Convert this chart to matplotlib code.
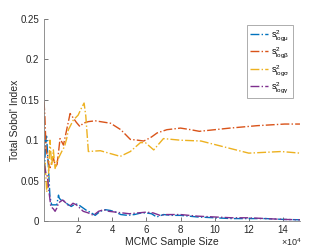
import matplotlib
matplotlib.use("Agg")
import matplotlib.pyplot as plt
import numpy as np

plt.rcParams['font.family'] = ['Liberation Sans', 'DejaVu Sans']
plt.rcParams['mathtext.fontset'] = 'custom'
plt.rcParams['mathtext.rm'] = 'Liberation Sans'
plt.rcParams['mathtext.it'] = 'Liberation Sans:italic'

# Sample sizes (x 1e4) and total Sobol' indices
x_mu = [0.02, 0.1, 0.15, 0.25, 0.35, 0.45, 0.6, 0.75, 0.85, 0.9, 1.0, 1.15, 1.3, 1.45, 1.6, 1.75, 1.9, 2.1, 2.3,
        2.5, 2.7, 3.0, 3.3, 3.6, 3.9, 4.2, 4.5, 4.9, 5.3, 5.7, 6.0, 6.3, 6.6, 7.0, 7.5, 8.0, 9.0, 10.0, 11.0,
        12.0, 13.0, 14.0, 15.0]
s_mu = [0.06, 0.10, 0.105, 0.07, 0.03, 0.02, 0.02, 0.02, 0.032, 0.028, 0.026, 0.025, 0.022, 0.02, 0.018, 0.02,
        0.021, 0.019, 0.016, 0.013, 0.011, 0.007, 0.012, 0.014, 0.013, 0.011, 0.008, 0.007, 0.008, 0.010, 0.010,
        0.009, 0.005, 0.008, 0.007, 0.007, 0.005, 0.004, 0.003, 0.003, 0.003, 0.002, 0.0015]

x_beta = [0.0, 0.05, 0.12, 0.25, 0.35, 0.45, 0.55, 0.65, 0.75, 0.85, 0.94, 1.04, 1.14, 1.3, 1.53, 1.7, 1.9, 2.1,
          2.3, 2.6, 3.0, 3.3, 3.9, 4.5, 5.06, 5.5, 5.84, 6.04, 6.3, 6.63, 7.2, 8.0, 8.6, 9.1, 10.0, 10.9, 12.5,
          14.1, 15.0]
s_beta = [0.148, 0.13, 0.09, 0.073, 0.066, 0.072, 0.078, 0.07, 0.067, 0.085, 0.102, 0.098, 0.094, 0.11, 0.133,
          0.128, 0.122, 0.117, 0.121, 0.123, 0.124, 0.123, 0.121, 0.113, 0.101, 0.100, 0.099, 0.101, 0.104, 0.109,
          0.113, 0.115, 0.113, 0.111, 0.113, 0.115, 0.118, 0.120, 0.120]

x_sigma = [0.02, 0.06, 0.16, 0.25, 0.35, 0.45, 0.55, 0.65, 0.75, 0.9, 1.04, 1.2, 1.33, 1.43, 1.72, 2.0, 2.2,
           2.35, 2.45, 2.6, 3.3, 4.47, 5.06, 5.65, 5.94, 6.43, 7.0, 8.0, 9.2, 10.5, 12.0, 13.9, 15.0]
s_sigma = [0.06, 0.073, 0.036, 0.049, 0.10, 0.069, 0.088, 0.065, 0.073, 0.080, 0.086, 0.092, 0.102, 0.113, 0.125,
           0.131, 0.14, 0.146, 0.13, 0.086, 0.087, 0.080, 0.086, 0.097, 0.097, 0.088, 0.102, 0.100, 0.099, 0.092,
           0.084, 0.086, 0.084]

x_gamma = [0.02, 0.1, 0.2, 0.3, 0.4, 0.55, 0.65, 0.75, 0.85, 0.95, 1.1, 1.3, 1.5, 1.7, 1.9, 2.1, 2.3, 2.6, 2.9,
           3.2, 3.5, 3.8, 4.2, 4.6, 5.0, 5.5, 6.0, 6.4, 6.8, 7.2, 8.0, 9.0, 10.0, 11.0, 12.0, 13.0, 14.0, 15.0]
s_gamma = [0.07, 0.06, 0.055, 0.035, 0.018, 0.015, 0.012, 0.016, 0.022, 0.024, 0.026, 0.022, 0.018, 0.022, 0.020,
           0.016, 0.012, 0.010, 0.007, 0.012, 0.014, 0.012, 0.011, 0.010, 0.009, 0.010, 0.011, 0.010, 0.007, 0.008,
           0.008, 0.006, 0.005, 0.004, 0.004, 0.003, 0.002, 0.0015]

labels = [r'$\mathregular{s^2_{log\mu}}$', r'$\mathregular{s^2_{log\beta}}$',
          r'$\mathregular{s^2_{log\sigma}}$', r'$\mathregular{s^2_{log\gamma}}$']
colors = ['#0072BD', '#D95319', '#EDB120', '#7E2F8E']
xticks = [2, 4, 6, 8, 10, 12, 14]
xtick_labels = ['2', '4', '6', '8', '10', '12', '14']
yticks = [0, 0.05, 0.1, 0.15, 0.2, 0.25]
ytick_labels = ['0', '0.05', '0.1', '0.15', '0.2', '0.25']

fig = plt.figure(figsize=(3.32, 2.49), dpi=100)
ax = fig.add_axes([0.1325, 0.1124, 0.771, 0.8113])

series = [(x_mu, s_mu), (x_beta, s_beta), (x_sigma, s_sigma), (x_gamma, s_gamma)]
for (xs, ys), c, lab in zip(series, colors, labels):
    ax.plot(np.array(xs) * 1e4, ys, linestyle='-.', color=c, lw=1.0, label=lab)

ax.set_xlim(0, 15e4)
ax.set_ylim(0, 0.25)
ax.set_xticks(np.array(xticks) * 1e4)
ax.set_xticklabels(xtick_labels)
ax.set_yticks(yticks)
ax.set_yticklabels(ytick_labels)

tc = '#404040'
ax.tick_params(direction='in', length=3, width=0.5, colors=tc, labelsize=7, labelcolor='#262626')
ax.tick_params(axis='x', pad=3)
for s in ['top', 'right']:
    ax.spines[s].set_visible(False)
for s in ['left', 'bottom']:
    ax.spines[s].set_color('#808080')
    ax.spines[s].set_linewidth(0.6)

ax.set_xlabel('MCMC Sample Size', fontsize=7.5, color='#262626', labelpad=1)
ax.set_ylabel("Total Sobol' Index", fontsize=7.5, color='#262626', labelpad=0)
fig.text(0.91, 0.004, r'$\times\mathregular{10^4}$', fontsize=6.5, color='#262626', ha='right', va='bottom')

leg = ax.legend(loc='upper right', bbox_to_anchor=(0.99, 0.995), fontsize=6.5, handlelength=2.0,
                handletextpad=0.3, borderpad=0.35, labelspacing=0.3, fancybox=False, framealpha=1)
leg.get_frame().set_edgecolor('#A0A0A0')
leg.get_frame().set_linewidth(0.6)

fig.savefig('out.png', dpi=100)
